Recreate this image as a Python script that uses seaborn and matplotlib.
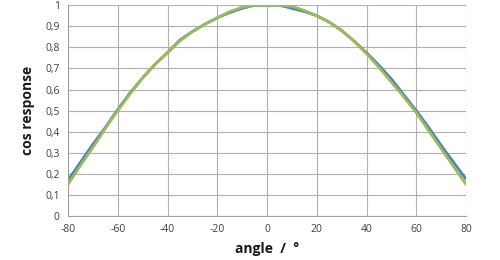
import matplotlib
matplotlib.use("Agg")
import matplotlib.pyplot as plt
import seaborn as sns
import pandas as pd

angles = [-80, -75, -70, -65, -60, -55, -50, -45, -40, -35, -30, -25, -20, -15, -10, -5,
          0, 5, 10, 15, 20, 25, 30, 35, 40, 45, 50, 55, 60, 65, 70, 75, 80]
blue = [0.17, 0.255, 0.34, 0.42, 0.505, 0.585, 0.655, 0.72, 0.775, 0.835, 0.875, 0.91, 0.94,
        0.965, 0.985, 1.0, 1.0, 1.0, 0.985, 0.97, 0.95, 0.92, 0.88, 0.83, 0.775, 0.715,
        0.65, 0.575, 0.5, 0.42, 0.335, 0.255, 0.175]
green = [0.15, 0.24, 0.325, 0.415, 0.5, 0.58, 0.655, 0.72, 0.775, 0.83, 0.875, 0.91, 0.94,
         0.97, 0.99, 1.0, 1.0, 1.0, 0.995, 0.975, 0.95, 0.92, 0.88, 0.83, 0.77, 0.705,
         0.635, 0.565, 0.49, 0.405, 0.32, 0.235, 0.15]
xticks = [-80, -60, -40, -20, 0, 20, 40, 60, 80]
yticks = [0, 0.1, 0.2, 0.3, 0.4, 0.5, 0.6, 0.7, 0.8, 0.9, 1.0]
ytick_labels = ["0", "0,1", "0,2", "0,3", "0,4", "0,5", "0,6", "0,7", "0,8", "0,9", "1"]

sns.set_style("white")
plt.rcParams['font.family'] = ['Open Sans', 'DejaVu Sans']

fig = plt.figure(figsize=(5, 2.6), dpi=100)
ax = fig.add_axes([0.136, 0.169, 0.796, 0.811])

df = pd.DataFrame({"angle": angles, "blue": blue, "green": green})
sns.lineplot(data=df, x="angle", y="blue", ax=ax, color="#4f81bd", linewidth=2.0)
sns.lineplot(data=df, x="angle", y="green", ax=ax, color="#9bbb59", linewidth=2.0)

ax.set_xlim(-80, 80)
ax.set_ylim(0, 1)
ax.set_xticks(xticks)
ax.set_xticklabels([str(t) for t in xticks])
ax.set_yticks(yticks)
ax.set_yticklabels(ytick_labels)
ax.grid(True, color="#b0b0b0", linewidth=0.8)
ax.set_axisbelow(True)
for s in ax.spines.values():
    s.set_visible(False)
ax.spines['left'].set_visible(True)
ax.spines['left'].set_color("#a0a0a0")
ax.spines['bottom'].set_visible(True)
ax.spines['bottom'].set_color("#a0a0a0")
ax.tick_params(axis='both', length=0, labelsize=7.5, colors="#404040", pad=6)
ax.set_xlabel("angle  /  °", fontsize=10, fontweight="bold", color="#1a1a1a", labelpad=5)
ax.set_ylabel("cos response", fontsize=10, fontweight="bold", color="#1a1a1a", labelpad=7)

fig.savefig("out.png", dpi=100)
